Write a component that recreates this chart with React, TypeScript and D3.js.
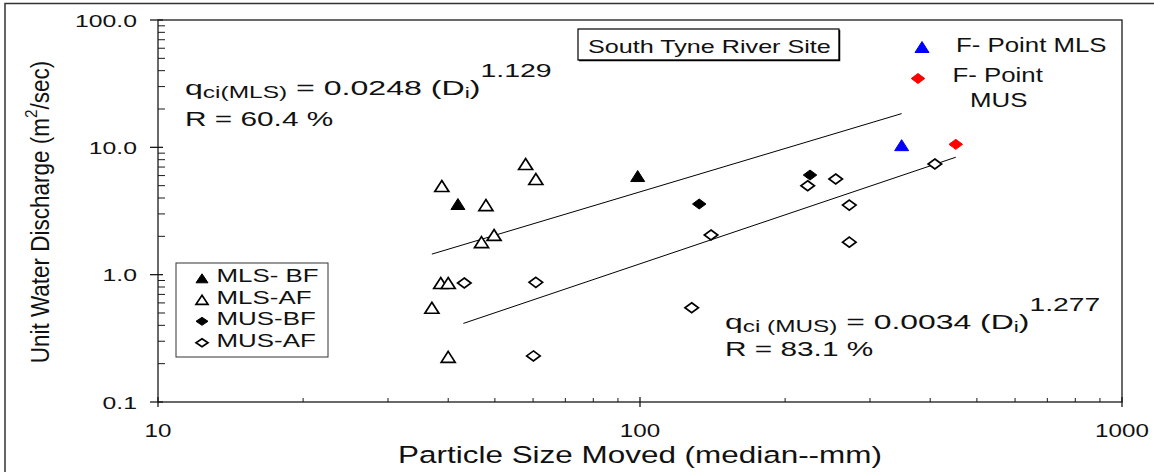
import React from 'react';
import * as d3 from 'd3';

// particle size moved (mm) / unit discharge (m2/sec)
const mlsBfSize = [41.9, 98.9];
const mlsBfQ = [3.59, 5.95];
const mlsAfSize = [38.8, 47.9, 57.9, 60.8, 49.8, 46.9, 38.6, 40.0, 37.0, 40.0];
const mlsAfQ = [4.97, 3.52, 7.4, 5.64, 2.05, 1.8, 0.86, 0.86, 0.55, 0.226];
const musBfSize = [132.7, 225.3];
const musBfQ = [3.59, 6.06];
const musAfSize = [140.4, 222.8, 254.7, 271.8, 271.8, 409, 43.2, 60.8, 128, 60.1];
const musAfQ = [2.05, 4.99, 5.64, 3.52, 1.8, 7.4, 0.86, 0.87, 0.55, 0.23];
const fPointMlsSize = [349];
const fPointMlsQ = [10.4];
const fPointMusSize = [452];
const fPointMusQ = [10.55];

// ends of the two fitted lines
const mlsFitSize = [37, 349];
const mlsFitQ = [1.45, 18.4];
const musFitSize = [43, 452];
const musFitQ = [0.414, 8.36];

const xTicks = [10, 100, 1000];
const yTicks = [0.1, 1, 10, 100];
const legendLabels = ['MLS- BF', 'MLS-AF', 'MUS-BF', 'MUS-AF'];

const W = 1154;
const H = 472;
const left = 158, right = 1122, top = 20, bottom = 402;

const x = d3.scaleLog().domain([10, 1000]).range([left, right]);
const y = d3.scaleLog().domain([0.1, 100]).range([bottom, top]);

const tri = (w: number, h: number) => `M0,${-h / 2}L${w / 2},${h / 2}L${-w / 2},${h / 2}Z`;
const dia = (w: number, h: number) => `M0,${-h / 2}L${w / 2},0L0,${h / 2}L${-w / 2},0Z`;

function Marker({ shape, fill, stroke, cx, cy, small }: any) {
  const d = shape === 'tri' ? (small ? tri(12, 9) : tri(14, 11)) : small ? dia(12, 8) : dia(13.5, 10);
  return (
    <path d={d} transform={`translate(${cx},${cy})`} fill={fill} stroke={stroke}
      strokeWidth={fill === 'white' ? 1.7 : 1} strokeLinejoin="miter" />
  );
}

function pts(xs: number[], ys: number[]) {
  return xs.map((v, i) => [x(v), y(ys[i])]);
}

export default function App() {
  const minorX: number[] = [];
  [10, 100].forEach(b => { for (let k = 2; k <= 9; k++) minorX.push(b * k); });
  const minorY: number[] = [];
  [0.1, 1, 10].forEach(b => { for (let k = 2; k <= 9; k++) minorY.push(b * k); });

  const line = d3.line();
  const series = [
    { p: pts(mlsBfSize, mlsBfQ), shape: 'tri', fill: 'black', stroke: 'black' },
    { p: pts(mlsAfSize, mlsAfQ), shape: 'tri', fill: 'white', stroke: 'black' },
    { p: pts(musBfSize, musBfQ), shape: 'dia', fill: 'black', stroke: 'black' },
    { p: pts(musAfSize, musAfQ), shape: 'dia', fill: 'white', stroke: 'black' },
    { p: pts(fPointMlsSize, fPointMlsQ), shape: 'tri', fill: '#0000ff', stroke: '#0000ff' },
    { p: pts(fPointMusSize, fPointMusQ), shape: 'dia', fill: '#ff0000', stroke: '#ff0000' },
  ];

  const axisColor = '#1a1a1a';

  return (
    <svg width={W} height={H} style={{ position: 'absolute', left: 0, top: 0, background: 'white' }}
      fontFamily="'Liberation Sans', Arial, sans-serif">
      {/* outer frame */}
      <path d={`M5,${H}V3.5H${W}`} fill="none" stroke="#333" strokeWidth={1.5} />

      {/* plot frame */}
      <rect x={left} y={top} width={right - left} height={bottom - top} fill="none" stroke={axisColor} strokeWidth={1.3} />

      {/* y ticks */}
      {yTicks.map(t => (
        <g key={'yt' + t}>
          <line x1={left - 8} x2={left + 5} y1={y(t)} y2={y(t)} stroke={axisColor} strokeWidth={1.3} />
          <text transform={`translate(137,${y(t) + 6.5}) scale(1.5,1)`} fontSize={16.5} textAnchor="end" fill="#111">
            {d3.format('.1f')(t)}
          </text>
        </g>
      ))}
      {minorY.map(t => (
        <line key={'ym' + t} x1={left} x2={left + 7} y1={y(t)} y2={y(t)} stroke={axisColor} strokeWidth={1} />
      ))}

      {/* x ticks */}
      {xTicks.map(t => (
        <g key={'xt' + t}>
          <line x1={x(t)} x2={x(t)} y1={bottom - 5} y2={bottom + 5} stroke={axisColor} strokeWidth={1.3} />
          <text transform={`translate(${x(t)},437) scale(1.3,1)`} fontSize={18.6} textAnchor="middle" fill="#111">
            {t}
          </text>
        </g>
      ))}
      {minorX.map(t => (
        <line key={'xm' + t} x1={x(t)} x2={x(t)} y1={bottom - 4} y2={bottom} stroke={axisColor} strokeWidth={1} />
      ))}

      {/* axis titles */}
      <text transform="translate(640,463) scale(1.35,1)" fontSize={23.3} textAnchor="middle" fill="#111">
        Particle Size Moved (median--mm)
      </text>
      <text transform="translate(49,212) rotate(-90) scale(0.9,1)" fontSize={25} textAnchor="middle" fill="#111">
        Unit Water Discharge (m<tspan dy={-12} fontSize={17}>2</tspan><tspan dy={12}>/sec)</tspan>
      </text>

      {/* fitted lines */}
      <path d={line(pts(mlsFitSize, mlsFitQ) as any) || ''} stroke="black" strokeWidth={1} fill="none" />
      <path d={line(pts(musFitSize, musFitQ) as any) || ''} stroke="black" strokeWidth={1} fill="none" />

      {/* points */}
      {series.map((s, i) => (
        <g key={'s' + i}>
          {s.p.map((p, j) => (
            <Marker key={j} shape={s.shape} fill={s.fill} stroke={s.stroke} cx={p[0]} cy={p[1]} />
          ))}
        </g>
      ))}

      {/* equations */}
      <text transform="translate(185,95) scale(1.53,1)" fontSize={21} fill="#111">
        q<tspan fontSize={16} dy={3}>ci(MLS)</tspan>
        <tspan dy={-3}> = 0.0248 (D</tspan>
        <tspan fontSize={15} dy={3}>i</tspan>
        <tspan dy={-3}>)</tspan>
        <tspan fontSize={18.6} dy={-18}>1.129</tspan>
      </text>
      <text transform="translate(185,125.5) scale(1.42,1)" fontSize={21} fill="#111">R = 60.4 %</text>

      <text transform="translate(725,329) scale(1.52,1)" fontSize={21} fill="#111">
        q<tspan fontSize={16} dy={3}>ci (MUS)</tspan>
        <tspan dy={-3}> = 0.0034 (D</tspan>
        <tspan fontSize={15} dy={3}>i</tspan>
        <tspan dy={-3}>)</tspan>
        <tspan fontSize={18.6} dy={-18}>1.277</tspan>
      </text>
      <text transform="translate(725,356) scale(1.42,1)" fontSize={21} fill="#111">R = 83.1 %</text>

      {/* site box */}
      <rect x={578} y={29} width={261} height={31} fill="white" stroke="black" strokeWidth={1.2} />
      <path d="M839.5,30V60.5H579" fill="none" stroke="black" strokeWidth={1.5} />
      <text transform="translate(588,53) scale(1.36,1)" fontSize={18.5} fill="#111">South Tyne River Site</text>

      {/* F-point labels */}
      <Marker shape="tri" fill="#0000ff" stroke="#0000ff" cx={922} cy={47} />
      <text transform="translate(956,51.7) scale(1.23,1)" fontSize={21} fill="#111">F- Point MLS</text>
      <Marker shape="dia" fill="#ff0000" stroke="#ff0000" cx={918} cy={78.5} />
      <text transform="translate(952.5,81.7) scale(1.23,1)" fontSize={21} fill="#111">F- Point</text>
      <text transform="translate(970,106.7) scale(1.23,1)" fontSize={21} fill="#111">MUS</text>

      {/* legend */}
      <rect x={176} y={263} width={152} height={94} fill="white" stroke="#333" strokeWidth={1} />
      {legendLabels.map((lab, i) => {
        const ly = 282.3 + i * 21.5;
        const s = series[i];
        return (
          <g key={lab}>
            <Marker shape={s.shape} fill={s.fill} stroke={s.stroke} cx={202} cy={ly - 4} small />
            <text transform={`translate(216.5,${ly}) scale(1.44,1)`} fontSize={18} fill="#111">{lab}</text>
          </g>
        );
      })}
    </svg>
  );
}
